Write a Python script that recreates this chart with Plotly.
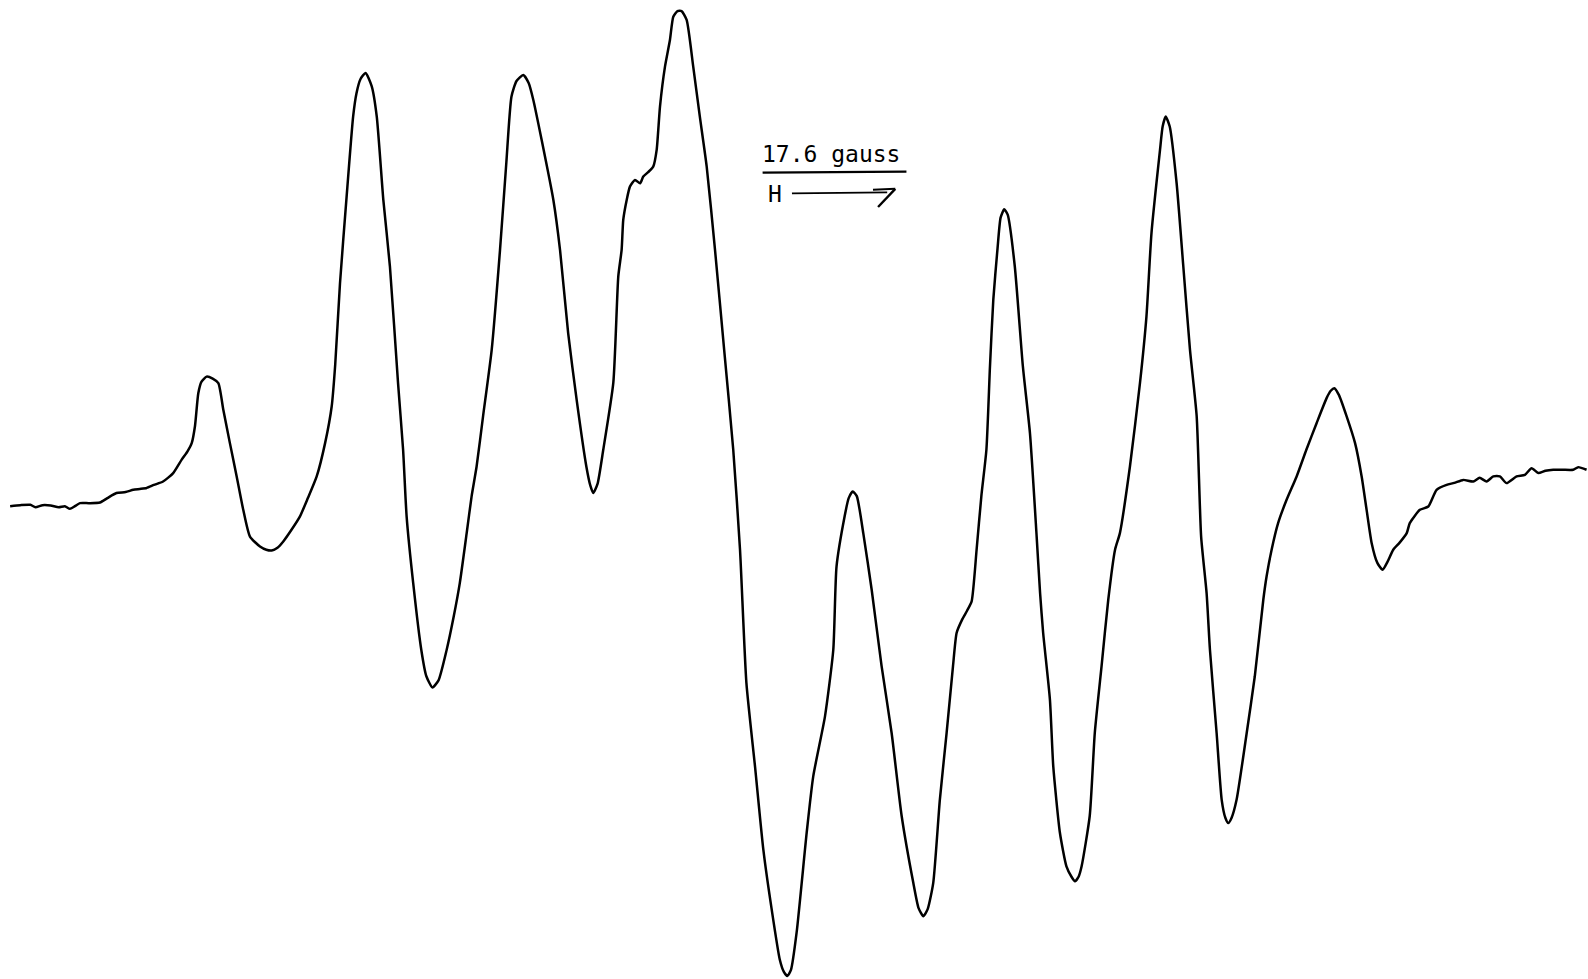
import plotly.graph_objects as go

# EPR derivative spectrum trace
# (x: field position, y: recorder deflection, y grows downward)
field_x = [10, 20, 30, 35, 42, 50, 58, 64, 69, 74, 79, 88, 98.7, 106, 115, 124, 131.6, 138, 144.8, 152, 161, 171, 179.4, 185, 189.3, 192.5, 195.8, 199, 204, 210, 215.6, 220.5, 227, 233.7, 240.2, 246.8, 256.7, 263, 268.2, 274, 279.7, 288, 296.2, 304, 312.7, 321, 327.5, 331, 335.7, 342, 348.7, 352, 356, 361, 367, 372, 378.5, 385, 393, 398, 401.5, 408, 416, 421, 427, 433, 441, 448, 454, 460.8, 465.7, 470.6, 477, 485.5, 493.7, 500, 505, 510, 516.7, 522, 526.6, 534.8, 546.4, 553, 561, 569.4, 579, 583, 585.8, 590, 595.7, 605.6, 610.5, 613.8, 615.4, 618.8, 622, 627, 632, 635.2, 640, 645, 648.4, 651.7, 656.6, 661.5, 664.8, 669, 673, 678, 684.5, 691, 697.8, 706, 715, 724, 730.7, 737, 745.5, 753.7, 762, 770, 774, 777.4, 781, 786.6, 796.5, 803, 814.6, 822.8, 826, 834, 838, 842, 846, 852.4, 860.7, 870.5, 880.4, 890.3, 901.8, 907, 911.7, 916, 921.5, 928, 934.7, 941, 944.6, 950, 955, 959.4, 964.3, 969, 974, 977.5, 980.8, 985, 988, 991.6, 995, 1002, 1010, 1017, 1023.6, 1027, 1030, 1036.7, 1040, 1046.6, 1053, 1058, 1061.4, 1065, 1068, 1076, 1081, 1087.7, 1094.3, 1101, 1105.8, 1115.7, 1125.6, 1132, 1137, 1145.4, 1148, 1151, 1155, 1161.8, 1168.4, 1175, 1181.6, 1186, 1191.4, 1194.7, 1201.3, 1206.3, 1210, 1212.8, 1216, 1221, 1231, 1239, 1247.4, 1250.7, 1255.6, 1262, 1270.4, 1280.3, 1290, 1300, 1310, 1314, 1317.5, 1322, 1329.6, 1338, 1344.5, 1349.4, 1354.4, 1360, 1365.2, 1370, 1375.7, 1382, 1389, 1392, 1402, 1410.3, 1418.5, 1428.4, 1436, 1444.8, 1454.7, 1461, 1467.9, 1474.5, 1481, 1487.6, 1497.5, 1505.7, 1512.3, 1518.9, 1526, 1533.7, 1543, 1553.4, 1558.4, 1566.6]
signal_y = [500, 499, 498.6, 501, 499, 499.3, 501, 500, 502.6, 500, 497, 497, 496.3, 492, 487, 486, 483.8, 483, 482, 479, 475.6, 467.3, 454, 446, 437.7, 421, 388.4, 377, 372, 374, 378.5, 404.8, 437.7, 470.6, 503.6, 530, 539.8, 543, 543.7, 541, 534.8, 523, 510, 492, 470.6, 437.7, 401.5, 360, 280, 197.5, 115, 92, 78, 72, 85, 115, 197.5, 263, 378, 444, 510, 576, 642, 668, 679, 672, 642, 609, 576, 526.6, 490, 460.8, 411, 345.6, 247, 160, 95.5, 80, 74, 82, 98.7, 138, 197.5, 247, 329, 395, 461, 480, 487, 478, 444, 378, 273, 246.8, 217.2, 197.5, 184.3, 177.7, 181, 174.4, 170, 164.6, 148, 105, 65.8, 39.5, 16.5, 11, 10.9, 19.7, 65.8, 115, 164.6, 246.8, 345, 444, 543, 674.5, 757, 839, 898.5, 948, 960, 964, 958, 921, 822.7, 766.8, 707.6, 641.8, 559.5, 510, 492, 485.5, 490, 526.6, 582.5, 658, 724, 806, 872, 897, 905, 898, 872, 790, 724, 658, 625, 612, 603, 594, 543, 490, 444, 362, 296, 245, 215, 206.7, 212, 263, 362, 428, 530, 586, 625, 691, 757, 822.8, 855.7, 866, 870.5, 866, 855.7, 806, 724, 658, 592.4, 543, 526.6, 460.8, 378.5, 312.7, 230, 148, 125, 115, 125, 181, 263, 345.6, 411, 530, 585.8, 641.8, 724, 790, 808, 813, 808, 790, 724, 668, 592.4, 569, 543, 516.7, 493.7, 470.6, 444, 418, 393, 386, 383.4, 390, 411, 437.7, 470.6, 503.6, 536.5, 556, 562.8, 555, 543, 536, 526.6, 516.7, 503.6, 500.3, 483.8, 478.9, 477, 474, 475.6, 472, 475.6, 470.6, 470.6, 477.2, 470.6, 469, 462.4, 467.3, 465, 464, 464, 464, 461.4, 464]

# Scale bar annotation
scale_label = "17.6 gauss"
field_label = "H"

fig = go.Figure()
fig.add_trace(go.Scatter(
    x=field_x, y=signal_y, mode="lines",
    line=dict(color="black", width=2.5, shape="spline", smoothing=0.55),
    hoverinfo="skip", showlegend=False,
))

fig.add_annotation(x=750, y=152, xref="x", yref="y", text=scale_label, showarrow=False,
                   xanchor="left", yanchor="middle",
                   font=dict(family="DejaVu Sans Mono", size=23, color="black"))
fig.add_annotation(x=756, y=192, xref="x", yref="y", text=field_label, showarrow=False,
                   xanchor="left", yanchor="middle",
                   font=dict(family="DejaVu Sans Mono", size=23, color="black"))
# underline of the scale bar
fig.add_shape(type="line", x0=753, x1=895, y0=170.5, y1=169.5, xref="x", yref="y",
              line=dict(color="black", width=2.2))
# field direction arrow
fig.add_shape(type="line", x0=782, x1=876, y0=191, y1=190, xref="x", yref="y",
              line=dict(color="black", width=1.8))
fig.add_shape(type="line", x0=862, x1=884, y0=187.5, y1=186.5, xref="x", yref="y",
              line=dict(color="black", width=2))
fig.add_shape(type="line", x0=884, x1=867, y0=186.5, y1=204.5, xref="x", yref="y",
              line=dict(color="black", width=2.4))

fig.update_xaxes(range=[0, 1568], visible=False, showgrid=False, zeroline=False, fixedrange=True)
fig.update_yaxes(range=[967, 0], visible=False, showgrid=False, zeroline=False, fixedrange=True)
fig.update_layout(
    width=1588, height=979,
    margin=dict(l=0, r=0, t=0, b=0),
    paper_bgcolor="white", plot_bgcolor="white",
)
fig.write_html("out.html", config={"displayModeBar": False},
               post_script="document.body.style.margin='0px';document.body.style.overflow='hidden';")
